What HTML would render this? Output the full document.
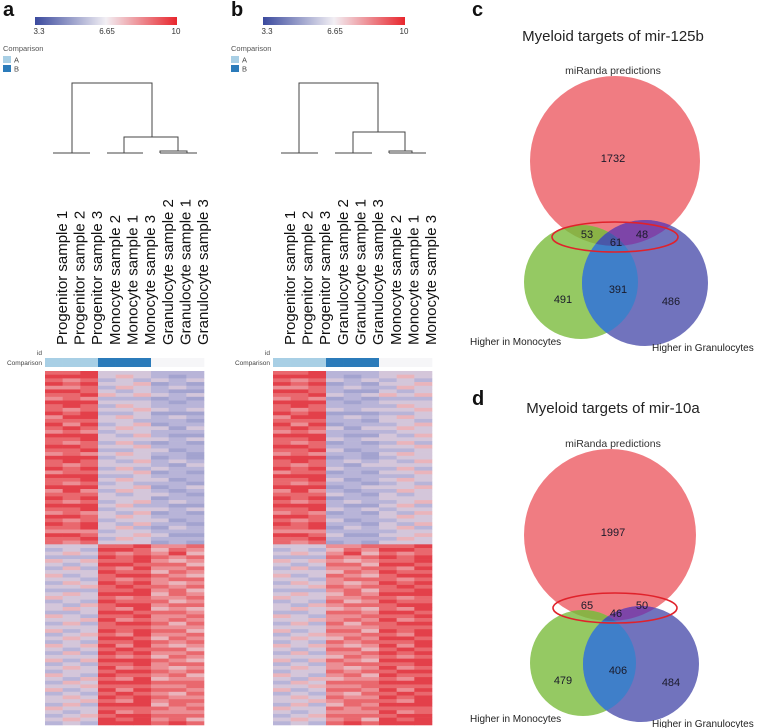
<!DOCTYPE html>
<html><head><meta charset="utf-8"><style>
html,body{margin:0;padding:0;background:#fff;}
svg{display:block;font-family:"Liberation Sans",Arial,sans-serif;}
</style></head><body>
<svg id="fig" width="760" height="728" viewBox="0 0 760 728">
<defs>
<linearGradient id="cbar" x1="0" x2="1" y1="0" y2="0">
<stop offset="0" stop-color="#3b4a9e"/><stop offset="0.5" stop-color="#f2eff4"/><stop offset="1" stop-color="#e8262d"/>
</linearGradient>
</defs>
<g id="panelA"></g>
<g id="panelB"></g>
<g id="panelC"></g>
<g id="panelD"></g>
</svg>
<script>
// heatmap data: each row = 9 levels (0..9) in panel-a column order
const sampleLabelsA = ["Progenitor  sample 1","Progenitor sample 2","Progenitor sample 3","Monocyte sample 2","Monocyte sample 1","Monocyte sample 3","Granulocyte sample 2","Granulocyte sample 1","Granulocyte sample 3"];
const sampleLabelsB = ["Progenitor  sample 1","Progenitor sample 2","Progenitor sample 3","Granulocyte sample 2","Granulocyte sample 1","Granulocyte sample 3","Monocyte sample 2","Monocyte sample 1","Monocyte sample 3"];
const columnOrderB = [0,1,2,6,7,8,3,4,5];
const comparisonGroups = ["A","A","A","B","B","B","","",""];
const colorTicks = ["3.3","6.65","10"];
const heatRows = [
"889555444","999565434","878454545","989556343","778465454","998545433","889656545","787444343","999555434","898465444",
"878556545","989445333","799565454","888554443","979456344","898565535","787455444","999546433","889555545","878464343",
"998556444","889445534","787565443","999455343","898546454","878555435","989464544","788556343","999445444","889565534",
"878454443","999556345","797465434","888545543","989555344","878456454","999564433","889455545","787546343","998565444",
"878455534","989546443","889564354","777455444","998556533","889465444","878555343",
"555889778","454998687","565878796","444989878","656889767","545998886","464879778","555988687","645899876","554878788",
"465989767","556898878","444889786","565999687","655878778","454988867","546899788","565879676","445998887","654889778",
"556978787","464899868","555888777","645989886","456879778","565998687","454889878","656979767","545898886","464989778",
"555878687","646999876","454889788","565978767","455899878","654988786","546879677","465999888","556888778","645979887",
"454898768","565989877","556879788","464999687","655888878","545978777","456899888","565989786","454999898"
];
// venn data
const vennC = {title:"Myeloid targets of mir-125b", mir:"1732", pg:"53", all:"61", pb:"48", gb:"391", g:"491", b:"486"};
const vennD = {title:"Myeloid targets of mir-10a", mir:"1997", pg:"65", all:"46", pb:"50", gb:"406", g:"479", b:"484"};

const NS="http://www.w3.org/2000/svg";
function mk(parent, tag, attrs, text){
  const e=document.createElementNS(NS,tag);
  for(const k in attrs) e.setAttribute(k,attrs[k]);
  if(text!==undefined) e.textContent=text;
  parent.appendChild(e); return e;
}
const heatPalette=["#5a62ae","#7078b8","#8a8ec4","#a3a3cf","#b8b4d8","#d4c6da","#eab4bb","#ec8e94","#e9686e","#e3404a"];
function heatColor(level){ return heatPalette[Math.max(0,Math.min(9,level))]; }

function drawHeatPanel(g, ox, letter, labels, order, dendro){
  const t=mk(g,"text",{x:ox+3,y:16,"font-size":"20","font-weight":"bold",fill:"#111"},letter);
  
  
  const cb=mk(g,"rect",{x:ox+35,y:17,width:142,height:8,fill:"url(#cbar)"});
  
  
  const tickX=[ox+39,ox+107,ox+176];
  colorTicks.forEach((s,i)=>{
    const tt=mk(g,"text",{x:tickX[i],y:34,"font-size":"8","text-anchor":"middle",fill:"#333"},s);
    
    
  });
  const lg=mk(g,"text",{x:ox+3,y:51,"font-size":"7.5",fill:"#555"},"Comparison");
  
  
  [["A","#a8cfe5",56],["B","#2b7bba",65]].forEach(([n,c,y])=>{
    const r=mk(g,"rect",{x:ox+3,y:y,width:8,height:7,fill:c});
    
    
    const tx=mk(g,"text",{x:ox+14,y:y+6.5,"font-size":"7.5",fill:"#444"},n);
    
    
  });
  const dp=mk(g,"path",{d:dendro,fill:"none",stroke:"#444","stroke-width":"1"});
  
  
  const hx0=ox+45, hx1=ox+204, cw=(hx1-hx0)/9;
  labels.forEach((s,i)=>{
    const bx=hx0+cw*(i+0.5)+13;
    const tl=mk(g,"text",{x:bx,y:345,"font-size":"15",fill:"#111",transform:"rotate(-90 "+bx+" 345)"},s);
    
    
  });
  const idl=mk(g,"text",{x:hx0-3,y:355,"font-size":"6.5","text-anchor":"end",fill:"#444"},"id");
  
  
  const cl=mk(g,"text",{x:hx0-3,y:365,"font-size":"6.5","text-anchor":"end",fill:"#444"},"Comparison");
  
  
  order.forEach((ci,i)=>{
    const grp=comparisonGroups[i];
    const r=mk(g,"rect",{x:hx0+cw*i,y:358,width:cw+0.3,height:9,fill:grp==="A"?"#a8cfe5":(grp==="B"?"#2b7bba":"#f6f6f8")});
    
    
  });
  const top=371, bottom=725, rh=(bottom-top)/heatRows.length;
  const hg=mk(g,"g",{});
  
  
  heatRows.forEach((row,ri)=>{
    order.forEach((ci,j)=>{
      const lvl=+row[ci];
      const r=mk(hg,"rect",{x:hx0+cw*j,y:top+ri*rh,width:cw+0.3,height:rh+0.3,fill:heatColor(lvl)});
      
      
    });
  });
}
drawHeatPanel(document.getElementById("panelA"),0,"a",sampleLabelsA,[0,1,2,3,4,5,6,7,8],
 "M72 153V83H152V137M124 153V137H178V151M53 153H90M107 153H143M160 153H197M160 153V151H187V153");
drawHeatPanel(document.getElementById("panelB"),228,"b",sampleLabelsB,columnOrderB,
 "M299 153V83H378V132M353 153V132H405V151M281 153H318M335 153H372M389 153H426M389 153V151H412V153");

function drawVenn(g, v, letterY, titleY, P, G, B, E, letter){
  const id=letter;
  const defs=mk(g,"defs",{});
  const cpP=mk(defs,"clipPath",{id:"cp"+id});
  mk(cpP,"circle",{cx:P[0],cy:P[1],r:P[2]});
  const cpG=mk(defs,"clipPath",{id:"cg"+id});
  mk(cpG,"circle",{cx:G[0],cy:G[1],r:G[2]});
  const lt=mk(g,"text",{x:472,y:letterY,"font-size":"20","font-weight":"bold",fill:"#111"},letter);
  
  
  const tt=mk(g,"text",{x:613,y:titleY,"font-size":"15","text-anchor":"middle",fill:"#222"},v.title);
  
  
  const ml=mk(g,"text",{x:613,y:P[1]-P[2]-2,"font-size":"10.5","text-anchor":"middle",fill:"#333"},"miRanda predictions");
  
  
  const cp=mk(g,"circle",{cx:P[0],cy:P[1],r:P[2],fill:"#f07c82"});
  
  
  const cg=mk(g,"circle",{cx:G[0],cy:G[1],r:G[2],fill:"#95c963"});
  
  
  const cb=mk(g,"circle",{cx:B[0],cy:B[1],r:B[2],fill:"#7173bd"});
  
  
  const ov1=mk(g,"circle",{cx:G[0],cy:G[1],r:G[2],fill:"#8ab246","clip-path":"url(#cp"+id+")"});
  
  
  const ov2=mk(g,"circle",{cx:B[0],cy:B[1],r:B[2],fill:"#7d45a8","clip-path":"url(#cp"+id+")"});
  
  
  const ov3=mk(g,"circle",{cx:B[0],cy:B[1],r:B[2],fill:"#3f7fc9","clip-path":"url(#cg"+id+")"});
  
  
  const g4=mk(g,"g",{"clip-path":"url(#cp"+id+")"});
  const ov4=mk(g4,"circle",{cx:B[0],cy:B[1],r:B[2],fill:"#4a58a8","clip-path":"url(#cg"+id+")"});
  
  
  const el=mk(g,"ellipse",{cx:E[0],cy:E[1],rx:E[2],ry:E[3],fill:"none",stroke:"#e0222b","stroke-width":"1.6"});
  
  
  const nums=[[v.mir,613,P[1]-3],[v.pg,587,E[1]-3],[v.all,616,E[1]+5],[v.pb,642,E[1]-3],[v.gb,618,G[1]+7],[v.g,563,G[1]+17],[v.b,671,G[1]+19]];
  nums.forEach(([s,x,y])=>{
    const n=mk(g,"text",{x:x,y:y+4,"font-size":"11","text-anchor":"middle",fill:"#1a1a2a"},s);
    
    
  });
  const l1=mk(g,"text",{x:470,y:G[1]+G[2]+6,"font-size":"10","fill":"#222"},"Higher in Monocytes");
  
  
  const l2=mk(g,"text",{x:652,y:B[1]+B[2]+5,"font-size":"10","fill":"#222"},"Higher in Granulocytes");
  
  
}
drawVenn(document.getElementById("panelC"),vennC,16,41,[615,161,85],[581,282,57],[645,283,63],[615,237,63,15],"c");
drawVenn(document.getElementById("panelD"),vennD,405,413,[610,535,86],[583,663,53],[641,664,58],[615,608,62,15],"d");
</script>
</body></html>
